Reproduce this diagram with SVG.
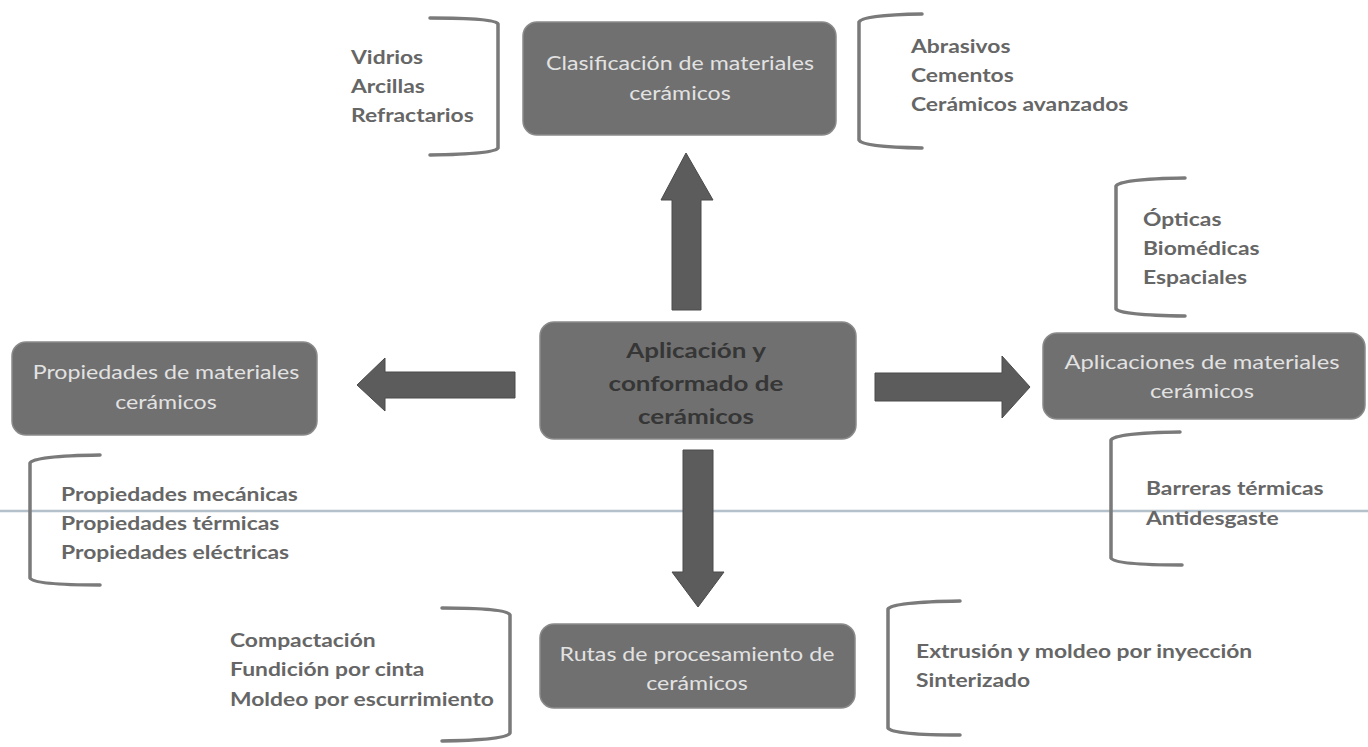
<svg xmlns="http://www.w3.org/2000/svg" width="1368" height="747" viewBox="0 0 1368 747">
<style>
.box{fill:#707070;stroke:#8a8a8a;stroke-width:1.5}
.bt{font-family:Lato,"Open Sans",sans-serif;font-size:19px;fill:#e2e2e2;text-anchor:middle}
.ct{font-family:Lato,"Open Sans",sans-serif;font-size:20px;font-weight:bold;fill:#363636;text-anchor:middle}
.lt{font-family:Lato,"Open Sans",sans-serif;font-size:18px;font-weight:bold;fill:#666666}
.br{fill:none;stroke:#7a7a7a;stroke-width:3.5;stroke-linejoin:round;stroke-linecap:round}
.ar{fill:#5c5c5c;stroke:#4a4a4a;stroke-width:1}
</style>
<rect width="1368" height="747" fill="#ffffff"/>
<line x1="0" y1="511" x2="1368" y2="511" stroke="#b4c0ca" stroke-width="2.5"/>
<g id="connectors">
<polygon class="ar" points="672,310 672,200 661,200 686,153 713,200 701,200 701,310"/>
<polygon class="ar" points="683,450 713,450 713,572 724,572 698,607 672,572 683,572"/>
<polygon class="ar" points="515,372 385,372 385,358 357,385 385,411 385,398 515,398"/>
<polygon class="ar" points="875,373 1002,373 1002,356 1030,387 1002,418 1002,401 875,401"/>
</g>
<g id="center">
<rect class="box" x="540" y="322" width="316" height="117" rx="14"/>
<g transform="translate(696,0) scale(1.3,1)">
<text class="ct" x="0" y="358">Aplicación y</text>
<text class="ct" x="0" y="391">conformado de</text>
<text class="ct" x="0" y="424">cerámicos</text>
</g>
</g>
<g id="clasificacion">
<rect class="box" x="523" y="22" width="313" height="113" rx="14"/>
<g transform="translate(680,0) scale(1.22,1)">
<text class="bt" x="0" y="70">Clasificación de materiales</text>
<text class="bt" x="0" y="100">cerámicos</text>
</g>
</g>
<g id="clasificacion-left">
<path class="br" d="M430,18 Q495,18 498,24 L498,148 Q495,154 430,155"/>
<g transform="translate(351,0) scale(1.27,1)">
<text class="lt" x="0" y="64">Vidrios</text>
<text class="lt" x="0" y="93">Arcillas</text>
<text class="lt" x="0" y="122">Refractarios</text>
</g>
</g>
<g id="clasificacion-right">
<path class="br" d="M922,14 Q862,15 859,22 L859,140 Q862,147 922,148"/>
<g transform="translate(911,0) scale(1.27,1)">
<text class="lt" x="0" y="53">Abrasivos</text>
<text class="lt" x="0" y="82">Cementos</text>
<text class="lt" x="0" y="111">Cerámicos avanzados</text>
</g>
</g>
<g id="propiedades">
<rect class="box" x="12" y="342" width="305" height="93" rx="14"/>
<g transform="translate(166,0) scale(1.22,1)">
<text class="bt" x="0" y="379">Propiedades de materiales</text>
<text class="bt" x="0" y="409">cerámicos</text>
</g>
</g>
<g id="propiedades-list">
<path class="br" d="M100,455 Q34,456 30,463 L30,578 Q34,585 100,585"/>
<g transform="translate(61,0) scale(1.27,1)">
<text class="lt" x="0" y="501">Propiedades mecánicas</text>
<text class="lt" x="0" y="530">Propiedades térmicas</text>
<text class="lt" x="0" y="559">Propiedades eléctricas</text>
</g>
</g>
<g id="aplicaciones">
<rect class="box" x="1043" y="333" width="322" height="86" rx="14"/>
<g transform="translate(1202,0) scale(1.25,1)">
<text class="bt" x="0" y="369">Aplicaciones de materiales</text>
<text class="bt" x="0" y="398">cerámicos</text>
</g>
</g>
<g id="aplicaciones-top">
<path class="br" d="M1185,178 Q1120,179 1116,186 L1116,309 Q1120,315 1185,316"/>
<g transform="translate(1143,0) scale(1.27,1)">
<text class="lt" x="0" y="226">Ópticas</text>
<text class="lt" x="0" y="255">Biomédicas</text>
<text class="lt" x="0" y="284">Espaciales</text>
</g>
</g>
<g id="aplicaciones-bottom">
<path class="br" d="M1180,432 Q1115,433 1111,440 L1111,558 Q1115,565 1182,565"/>
<g transform="translate(1146,0) scale(1.27,1)">
<text class="lt" x="0" y="495">Barreras térmicas</text>
<text class="lt" x="0" y="525">Antidesgaste</text>
</g>
</g>
<g id="rutas">
<rect class="box" x="540" y="624" width="315" height="84" rx="14"/>
<g transform="translate(697,0) scale(1.22,1)">
<text class="bt" x="0" y="661">Rutas de procesamiento de</text>
<text class="bt" x="0" y="690">cerámicos</text>
</g>
</g>
<g id="rutas-left">
<path class="br" d="M442,608 Q507,608 510,615 L510,733 Q507,740 442,741"/>
<g transform="translate(230,0) scale(1.27,1)">
<text class="lt" x="0" y="647">Compactación</text>
<text class="lt" x="0" y="676">Fundición por cinta</text>
<text class="lt" x="0" y="706">Moldeo por escurrimiento</text>
</g>
</g>
<g id="rutas-right">
<path class="br" d="M960,601 Q893,602 888,609 L888,728 Q893,735 960,735"/>
<g transform="translate(916,0) scale(1.27,1)">
<text class="lt" x="0" y="658">Extrusión y moldeo por inyección</text>
<text class="lt" x="0" y="687">Sinterizado</text>
</g>
</g>
</svg>
